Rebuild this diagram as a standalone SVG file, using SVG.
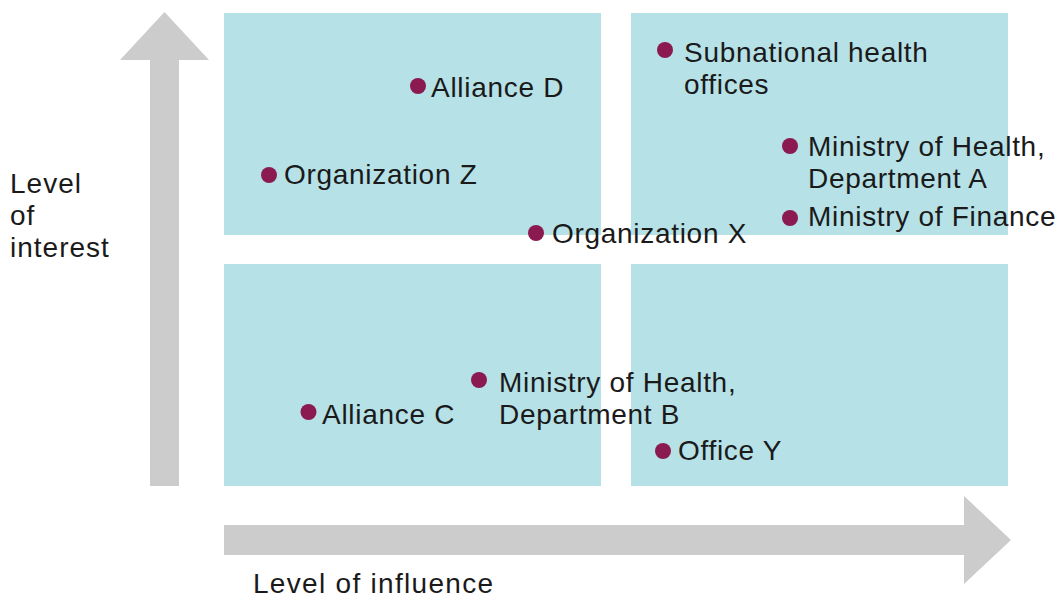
<svg xmlns="http://www.w3.org/2000/svg" width="1061" height="599" viewBox="0 0 1061 599">
<style>
.q{fill:#B6E1E7}
.ax{fill:#CCCCCC}
.dot{fill:#8B1A50}
text{font-family:"Liberation Sans",Arial,sans-serif;font-size:28px;fill:#1a1a1a;letter-spacing:0.7px}
</style>
<rect width="1061" height="599" fill="#ffffff"/>
<g id="quadrants">
<rect id="q-tl" class="q" x="224" y="13" width="377" height="222"/>
<rect id="q-tr" class="q" x="631" y="13" width="377" height="222"/>
<rect id="q-bl" class="q" x="224" y="264" width="377" height="222"/>
<rect id="q-br" class="q" x="631" y="264" width="377" height="222"/>
</g>
<g id="axes">
<polygon id="axis-interest" class="ax" points="150,486 150,60 120,60 164.5,12 209,60 179,60 179,486"/>
<polygon id="axis-influence" class="ax" points="224,525 964,525 964,496 1011,540 964,584 964,555 224,555"/>
</g>
<g id="axis-labels">
<text x="10" y="193" style="letter-spacing:1px">Level</text>
<text x="10" y="225" style="letter-spacing:1px">of</text>
<text x="10" y="257" style="letter-spacing:1px">interest</text>
<text x="253" y="593" style="letter-spacing:1.3px">Level of influence</text>
</g>
<g id="n-alliance-d"><circle class="dot" cx="418" cy="86" r="8"/><text x="431" y="97">Alliance D</text></g>
<g id="n-org-z"><circle class="dot" cx="269" cy="175" r="8"/><text x="284" y="184">Organization Z</text></g>
<g id="n-org-x"><circle class="dot" cx="536" cy="233" r="8"/><text x="552" y="243">Organization X</text></g>
<g id="n-subnational"><circle class="dot" cx="665" cy="50" r="8"/><text x="684" y="62">Subnational health</text><text x="684" y="94">offices</text></g>
<g id="n-moh-a"><circle class="dot" cx="790" cy="146" r="8"/><text x="808" y="156">Ministry of Health,</text><text x="808" y="188">Department A</text></g>
<g id="n-mof"><circle class="dot" cx="790" cy="218" r="8"/><text x="808" y="226">Ministry of Finance</text></g>
<g id="n-moh-b"><circle class="dot" cx="479" cy="380" r="8"/><text x="499" y="392">Ministry of Health,</text><text x="499" y="424">Department B</text></g>
<g id="n-alliance-c"><circle class="dot" cx="308.5" cy="412" r="8"/><text x="322" y="424">Alliance C</text></g>
<g id="n-office-y"><circle class="dot" cx="663" cy="451" r="8"/><text x="678" y="460">Office Y</text></g>
<g id="connectors"/>
</svg>
